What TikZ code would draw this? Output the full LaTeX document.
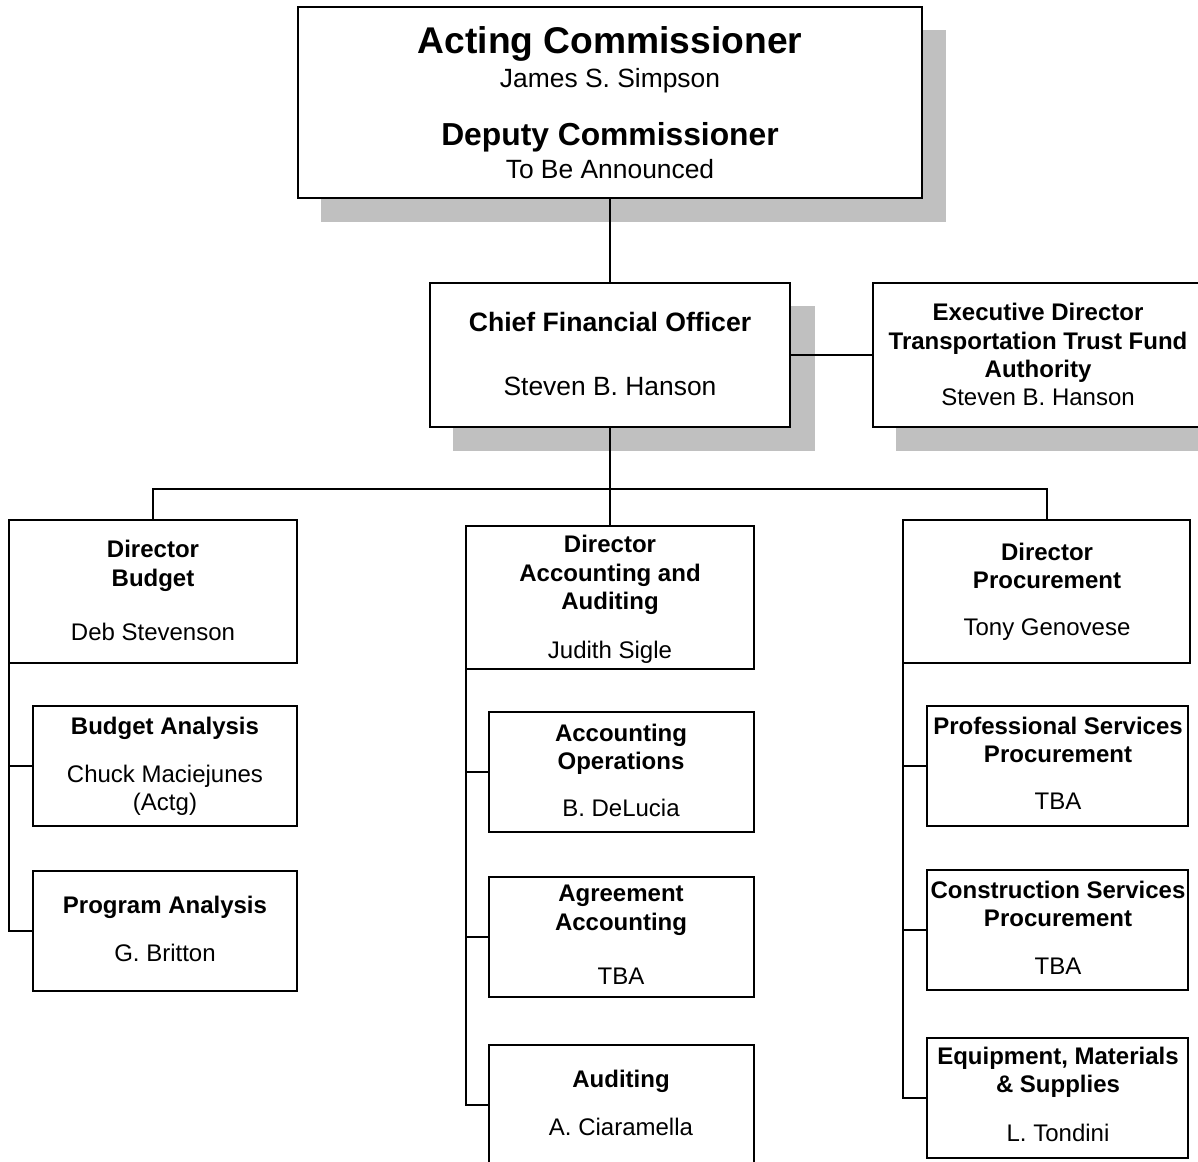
\documentclass[tikz,border=0pt]{standalone}
\usepackage{fontspec}
\setmainfont{Liberation Sans}
\usetikzlibrary{fit}
\definecolor{shade}{HTML}{C0C0C0}
\begin{document}
\begin{tikzpicture}[x=0.5pt,y=-0.5pt,
  box/.style={draw=black,line width=1pt,fill=white,inner sep=0pt,outer sep=0pt},
  shadowbox/.style={fill=shade,draw=none,inner sep=0pt,outer sep=0pt},
  link/.style={draw=black,line width=1pt},
  tb/.style={anchor=base,inner sep=0pt,font=\fontsize{12}{14}\selectfont\bfseries},
  tr/.style={anchor=base,inner sep=0pt,font=\fontsize{12}{14}\selectfont},
  tbm/.style={anchor=base,inner sep=0pt,font=\fontsize{13.3}{16}\selectfont\bfseries},
  trm/.style={anchor=base,inner sep=0pt,font=\fontsize{13.2}{16}\selectfont},
 ]
\useasboundingbox (0,0) rectangle (1198,1161);
\clip (0,0) rectangle (1198,1161);
\fill[white] (0,0) rectangle (1198,1161);

% shadows
\node[shadowbox, fit={(321,30) (946,222)}] (topsh) {};
\node[shadowbox, fit={(453,306) (815,451)}] (cfosh) {};
\node[shadowbox, fit={(896,306) (1225,451)}] (execsh) {};

% boxes
\node[box, fit={(298,7) (922,198)}] (top) {};
\node[box, fit={(430,283) (790,427)}] (cfo) {};
\node[box, fit={(873,283) (1215,427)}] (exec) {};

\node[box, fit={(9,520) (297,663)}] (dirB) {};
\node[box, fit={(33,706) (297,826)}] (ba) {};
\node[box, fit={(33,871) (297,991)}] (pa) {};

\node[box, fit={(466,526) (754,669)}] (dirA) {};
\node[box, fit={(489,712) (754,832)}] (ao) {};
\node[box, fit={(489,877) (754,997)}] (ag) {};
\node[box, fit={(489,1045) (754,1165)}] (aud) {};

\node[box, fit={(903,520) (1190,663)}] (dirP) {};
\node[box, fit={(927,706) (1188,826)}] (ps) {};
\node[box, fit={(927,870) (1188,990)}] (cs) {};
\node[box, fit={(927,1038) (1188,1158)}] (em) {};

% connectors
\coordinate (hub) at (610,489);
\draw[link] (top.south) -- (cfo.north);
\draw[link] (cfo.east) -- (exec.west);
\draw[link] (cfo.south) -- (hub);
\draw[link] (dirB.north) |- (hub) -| (dirP.north);
\draw[link] (hub) -- (dirA.north);

\draw[link] (dirB.south west) |- (ba.west);
\draw[link] (dirB.south west) |- (pa.west);
\draw[link] (dirA.south west) |- (ao.west);
\draw[link] (dirA.south west) |- (ag.west);
\draw[link] (dirA.south west) |- (aud.west);
\draw[link] (dirP.south west) |- (ps.west);
\draw[link] (dirP.south west) |- (cs.west);
\draw[link] (dirP.south west) |- (em.west);

% texts: top
\node[anchor=base,inner sep=0pt,font=\fontsize{18.6}{22}\selectfont\bfseries] (t1) at (610,54) {Acting Commissioner};
\node[trm] (t2) at (610,88) {James S. Simpson};
\node[anchor=base,inner sep=0pt,font=\fontsize{15.9}{19}\selectfont\bfseries] (t3) at (610,145) {Deputy Commissioner};
\node[trm] (t4) at (610,178) {To Be Announced};

% CFO
\node[tbm] (t5) at (610,331) {Chief Financial Officer};
\node[trm] (t6) at (610,395) {Steven B. Hanson};

% exec
\node[tb] (t7) at (1038,320) {Executive Director};
\node[tb] (t8) at (1038,349) {Transportation Trust Fund};
\node[tb] (t9) at (1038,377) {Authority};
\node[tr] (t10) at (1038,405) {Steven B. Hanson};

% budget
\node[tb] (t11) at (153,557) {Director};
\node[tb] (t12) at (153,586) {Budget};
\node[tr] (t13) at (153,640) {Deb Stevenson};
\node[tb] (t14) at (165,734) {Budget Analysis};
\node[tr] (t15) at (165,782) {Chuck Maciejunes};
\node[tr] (t16) at (165,810) {(Actg)};
\node[tb] (t17) at (165,913) {Program Analysis};
\node[tr] (t18) at (165,961) {G. Britton};

% accounting
\node[tb] (t19) at (610,552) {Director};
\node[tb] (t20) at (610,581) {Accounting and};
\node[tb] (t21) at (610,609) {Auditing};
\node[tr] (t22) at (610,658) {Judith Sigle};
\node[tb] (t23) at (621,741) {Accounting};
\node[tb] (t24) at (621,769) {Operations};
\node[tr] (t25) at (621,816) {B. DeLucia};
\node[tb] (t26) at (621,901) {Agreement};
\node[tb] (t27) at (621,930) {Accounting};
\node[tr] (t28) at (621,984) {TBA};
\node[tb] (t29) at (621,1087) {Auditing};
\node[tr] (t30) at (621,1135) {A. Ciaramella};

% procurement
\node[tb] (t31) at (1047,560) {Director};
\node[tb] (t32) at (1047,588) {Procurement};
\node[tr] (t33) at (1047,635) {Tony Genovese};
\node[tb] (t34) at (1058,734) {Professional Services};
\node[tb] (t35) at (1058,762) {Procurement};
\node[tr] (t36) at (1058,809) {TBA};
\node[tb] (t37) at (1058,898) {Construction Services};
\node[tb] (t38) at (1058,926) {Procurement};
\node[tr] (t39) at (1058,974) {TBA};
\node[tb] (t40) at (1058,1064) {Equipment, Materials};
\node[tb] (t41) at (1058,1092) {\& Supplies};
\node[tr] (t42) at (1058,1141) {L. Tondini};
\end{tikzpicture}
\end{document}
